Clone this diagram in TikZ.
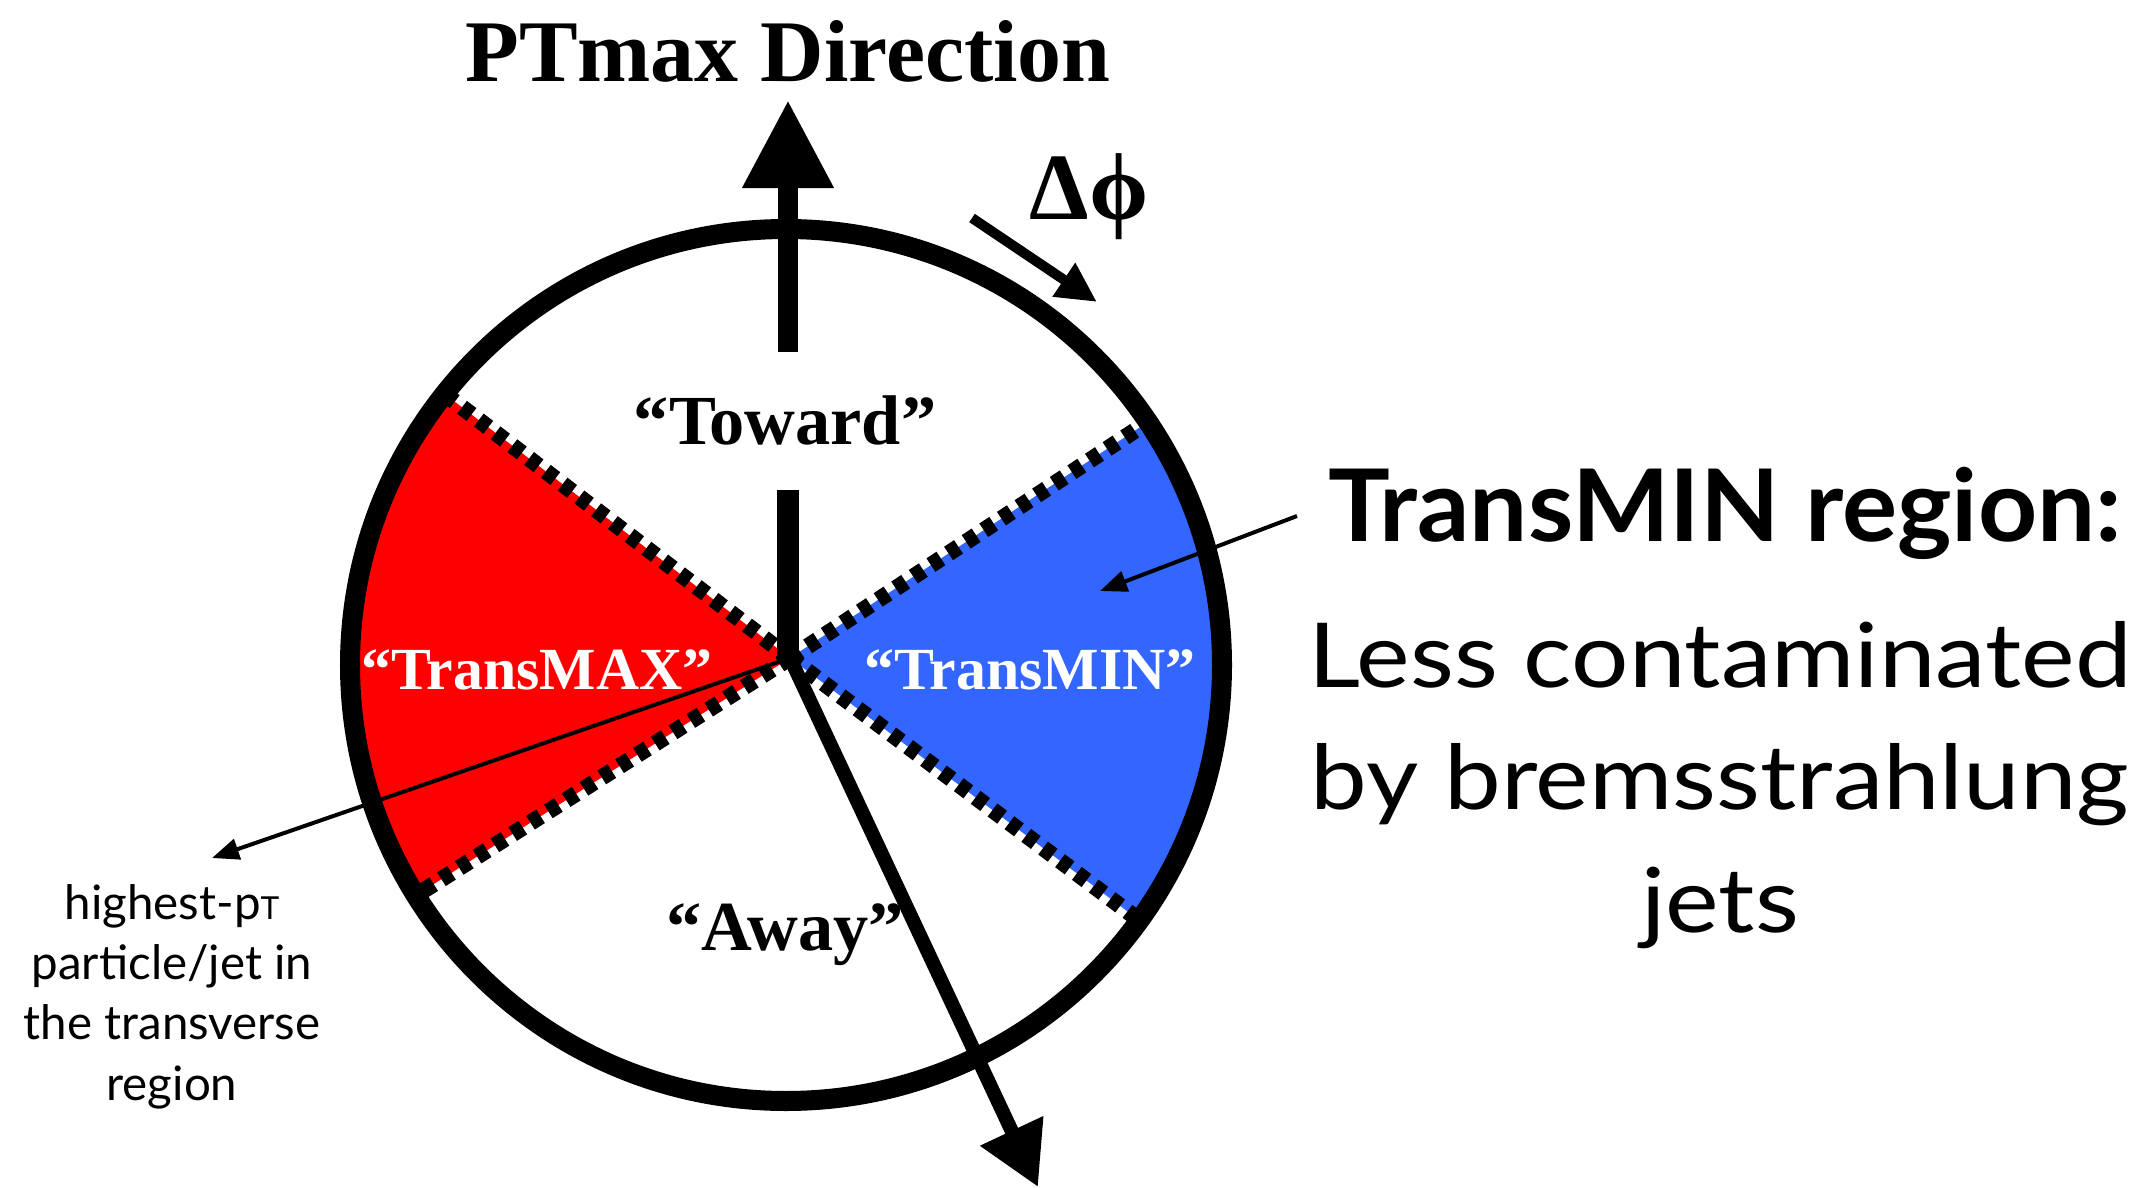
\documentclass[tikz,border=0pt]{standalone}
\usepackage{fontspec}
\setmainfont{Liberation Serif}
\newfontfamily\sansf{Lato}
\newfontfamily\sanswide[FakeStretch=1.13]{Lato}
\newfontfamily\sansboldwide[FakeStretch=1.03]{Lato Bold}
\usetikzlibrary{arrows.meta,calc}
\definecolor{tmaxred}{RGB}{255,0,0}
\definecolor{tminblue}{RGB}{51,102,255}
\begin{document}
\begin{tikzpicture}[x=0.01cm,y=-0.01cm,
  serlab/.style={font=\bfseries\fontsize{#1}{#1}\selectfont, inner sep=0pt, anchor=base},
  dotline/.style={line width=4.6pt, dash pattern=on 3.4pt off 2.6pt},
  thinarrow/.style={line width=0.04cm, -{Triangle[length=0.27cm,width=0.21cm]}}]
\useasboundingbox (0,0) rectangle (2148,1188);
\coordinate (A) at (790,658);
\coordinate (C) at (786,665);
% sectors
\begin{scope}
  \clip (C) circle[radius=436];
  \fill[tmaxred] (A) -- ($(A)+(-142.6:700)$) -- ($(A)+(180:700)$) -- ($(A)+(-212.4:700)$) -- cycle;
  \fill[tminblue] (A) -- ($(A)+(-33.4:700)$) -- ($(A)+(0:700)$) -- ($(A)+(36.9:700)$) -- cycle;
  \draw[dotline] (A) -- ($(A)+(-142.6:700)$);
  \draw[dotline] (A) -- ($(A)+(-212.4:700)$);
  \draw[dotline] (A) -- ($(A)+(-33.4:700)$);
  \draw[dotline] (A) -- ($(A)+(36.9:700)$);
\end{scope}
% circle
\draw[line width=0.2cm] (C) circle[radius=436];
% PTmax arrow
\coordinate (upbase) at (788,352);
\coordinate (uptip) at (788,100);
\draw[line width=0.2cm, -{Triangle[length=0.88cm,width=0.86cm]}] (upbase) -- (uptip);
\coordinate (lowtop) at (788,490);
\draw[line width=0.22cm] (lowtop) -- (788,658);
% big arrow
\coordinate (bigtip) at (1038,1187);
\draw[line width=0.14cm, -{Triangle[length=0.62cm,width=0.66cm]}] (A) -- (bigtip);
% delta phi arrow
\coordinate (dpa) at (972,218);
\coordinate (dpb) at (1097,302);
\draw[line width=0.1cm, -{Triangle[length=0.4cm,width=0.38cm]}] (dpa) -- (dpb);
% labels
\node[serlab=25] (title) at (788,82) {PTmax Direction};
\node[serlab=27] (dphi) at (1089,220) {Δϕ};
\node[serlab=20] (toward) at (785,444) {“Toward”};
\node[serlab=20] (away) at (785,950) {“Away”};
\node[serlab=17, text=white] (tmax) at (537,689) {“TransMAX”};
\node[serlab=17, text=white] (tmin) at (1030,689) {“TransMIN”};
% right text
\node[font=\sansboldwide\fontsize{28.5}{28.5}\selectfont, inner sep=0pt, anchor=base] (trm) at (1725,541) {TransMIN region:};
\node[font=\sanswide\fontsize{25.5}{34.7}\selectfont, inner sep=0pt, anchor=base, align=center] (less) at (1720,932) {Less contaminated\\by bremsstrahlung\\jets};
\coordinate (trmstart) at (1297,516);
\coordinate (trmtip) at (1100,591);
\draw[thinarrow] (trmstart) -- (trmtip);
% left text
\node[font=\sansf\fontsize{13.5}{17.07}\selectfont, inner sep=0pt, anchor=base, align=center] (hpt) at (172,1100) {highest-p{\fontsize{9}{9}\selectfont T}\\particle/jet in\\the transverse\\region};
\coordinate (hptip) at (212,858);
\draw[thinarrow] (A) -- (hptip);
\end{tikzpicture}
\end{document}
